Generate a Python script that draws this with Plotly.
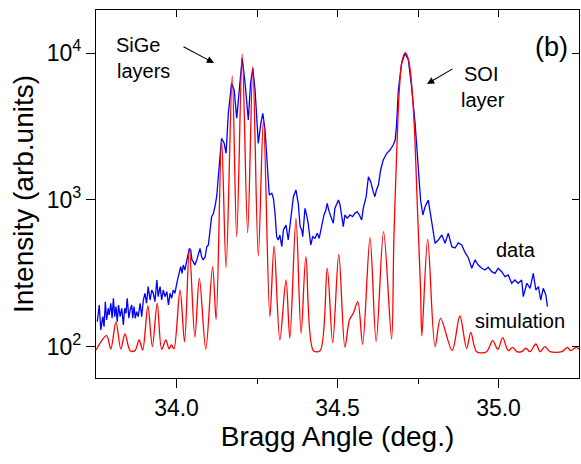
import plotly.graph_objects as go

# ---- simulation (red) ----
sim_angle = [33.750, 33.783, 33.796, 33.812, 33.827, 33.840, 33.856, 33.871, 33.884, 33.895,
             33.911, 33.925, 33.940, 33.954, 33.967, 33.977, 33.984, 33.992, 34.011, 34.025,
             34.040, 34.057, 34.071, 34.091, 34.112, 34.123, 34.140, 34.154, 34.173, 34.187,
             34.204, 34.221, 34.237, 34.254, 34.270, 34.290, 34.303, 34.321, 34.340, 34.352,
             34.371, 34.387, 34.402, 34.425, 34.446, 34.468, 34.485, 34.504, 34.523, 34.537,
             34.549, 34.563, 34.578, 34.601, 34.620, 34.643, 34.668, 34.675, 34.683, 34.692,
             34.700, 34.710, 34.719, 34.727, 34.738, 34.748, 34.758, 34.762, 34.780, 34.803,
             34.820, 34.856, 34.880, 34.901, 34.914, 34.932, 34.963, 34.982, 34.998, 35.013,
             35.030, 35.044, 35.057, 35.072, 35.085, 35.098, 35.116, 35.129, 35.144, 35.160,
             35.197, 35.214, 35.224, 35.241, 35.253]
sim_int = [95.4, 119.4, 96.9, 148, 97, 122.6, 94.4, 94.4, 111.6, 95.4,
           190, 100.5, 198.3, 96.5, 111.6, 97, 103.2, 97, 244.2, 108.7,
           466.4, 116.4, 293.3, 96.5, 351.8, 153.9, 2588, 346.3, 6973, 562.9,
           9845, 599.3, 8069, 415.9, 3540, 160.8, 486.6, 111.6, 285.6, 114.6,
           748.3, 123.9, 411.4, 94.4, 94.4, 343.1, 107, 427.2, 99.5, 152.7,
           169.6, 203.3, 104.3, 554, 108.7, 608.7, 113, 534.5, 1872, 5602,
           8686, 10047, 9247, 7311, 3341, 896.3, 244.2, 118.8, 540.4, 100.5,
           156.3, 94.7, 162.5, 97.7, 125.9, 92.9, 92.9, 110.4, 96.5, 115.7,
           94.4, 99.5, 92.9, 92.9, 98, 92.9, 104.8, 92.9, 100.5, 92.9,
           92.9, 99.5, 94.4, 99.5, 95.4]

# ---- measured data (blue) ----
data_angle = [33.754, 33.760, 33.765, 33.771, 33.775, 33.779, 33.783, 33.788, 33.791, 33.796,
              33.800, 33.804, 33.808, 33.812, 33.816, 33.820, 33.825, 33.830, 33.835, 33.839,
              33.843, 33.847, 33.852, 33.856, 33.861, 33.864, 33.868, 33.872, 33.876, 33.881,
              33.887, 33.892, 33.897, 33.902, 33.907, 33.912, 33.918, 33.923, 33.928, 33.933,
              33.939, 33.943, 33.949, 33.954, 33.959, 33.964, 33.970, 33.975, 33.980, 33.985,
              33.990, 33.995, 34.002, 34.009, 34.013, 34.017, 34.021, 34.026, 34.032, 34.037,
              34.040, 34.044, 34.048, 34.052, 34.057, 34.063, 34.068, 34.073, 34.078, 34.083,
              34.089, 34.094, 34.099, 34.104, 34.109, 34.114, 34.120, 34.125, 34.130, 34.135,
              34.140, 34.148, 34.154, 34.161, 34.171, 34.179, 34.187, 34.195, 34.204, 34.213,
              34.223, 34.230, 34.237, 34.244, 34.254, 34.262, 34.268, 34.275, 34.280, 34.285,
              34.288, 34.296, 34.301, 34.306, 34.311, 34.316, 34.321, 34.327, 34.332, 34.340,
              34.347, 34.352, 34.363, 34.371, 34.378, 34.384, 34.389, 34.392, 34.399, 34.404,
              34.409, 34.417, 34.423, 34.430, 34.437, 34.443, 34.451, 34.458, 34.464, 34.468,
              34.474, 34.482, 34.487, 34.492, 34.503, 34.508, 34.513, 34.518, 34.523, 34.530,
              34.539, 34.547, 34.554, 34.561, 34.568, 34.575, 34.580, 34.589, 34.596, 34.603,
              34.611, 34.616, 34.621, 34.627, 34.634, 34.642, 34.653, 34.663, 34.673, 34.679,
              34.683, 34.689, 34.699, 34.710, 34.720, 34.730, 34.741, 34.751, 34.758, 34.765,
              34.772, 34.782, 34.787, 34.793, 34.798, 34.803, 34.813, 34.824, 34.834, 34.844,
              34.855, 34.865, 34.875, 34.886, 34.896, 34.906, 34.917, 34.927, 34.937, 34.948,
              34.958, 34.968, 34.979, 34.989, 34.999, 35.010, 35.020, 35.030, 35.041, 35.051,
              35.061, 35.072, 35.077, 35.088, 35.098, 35.108, 35.116, 35.124, 35.131, 35.139,
              35.147, 35.152]
data_int = [148.6, 193.1, 130.5, 160.8, 137.4, 203.3, 152.6, 183.4, 165.1, 198.3,
            156.8, 214.5, 160.8, 188, 148.6, 193.1, 160.8, 183.4, 141.1, 183.4,
            169.6, 214.5, 156.8, 178.5, 193.1, 156.8, 188, 156.8, 173.9, 160.8,
            198.3, 160.8, 208.8, 231.9, 198.3, 257.2, 208.8, 244.2, 231.9, 203.3,
            285.6, 219.9, 257.2, 208.8, 244.2, 219.9, 237.8, 193.1, 231.9, 214.5,
            244.2, 231.9, 278.1, 334.1, 351.8, 317.2, 361.3, 334.1, 390.8, 434,
            469.2, 457, 390.8, 380.5, 361.3, 390.8, 434, 469.2, 411.5, 390.8,
            411.5, 481.2, 494.2, 625.2, 769.8, 803.2, 910.4, 1065, 1368, 1970,
            2628, 2430, 2078, 3888, 6222, 5601, 3595, 5319, 9204, 6222,
            3501, 6222, 7868, 5601, 2430, 3325, 3888, 2994, 1970, 1368,
            1081, 1111, 1027, 812, 562.9, 534.5, 578, 481.2, 625.2, 676,
            534.5, 658.3, 1053, 1170, 949.6, 658.3, 625.2, 562.9, 878.1, 790.7,
            694.2, 494.2, 562.9, 549, 593.6, 549, 676, 790.7, 855, 949.6,
            832.5, 731, 694.2, 878.1, 1000, 924.7, 750.7, 658.3, 790.7, 750.7,
            790.7, 769.8, 812, 832.5, 790.7, 731, 878.1, 1053, 1440, 1332,
            1139, 1053, 1170, 1265, 1600, 1871, 2078, 2189, 2367, 2559,
            3152, 5601, 8510, 9954, 8964, 5898, 3325, 1684, 1000, 790.7,
            900.5, 1000, 855, 731, 608.6, 507.6, 534.5, 578, 507.6, 593.6,
            481.2, 471.5, 510, 494.2, 439.5, 406.3, 343.1, 390.8, 361.3, 343.1,
            334.1, 348.5, 325.2, 317.2, 343.1, 325.2, 300.8, 309, 271.3, 285.6,
            271.3, 285.6, 219.9, 271.3, 250.8, 317.2, 244.2, 257.2, 208.8, 250.8,
            225.8, 188]

x_range = [33.75, 35.25]
y_log_range = [1.789, 4.2925]
x_tickvals = [34.0, 34.5, 35.0]
x_ticktext = ["34.0", "34.5", "35.0"]
y_tickvals = [100, 1000, 10000]
y_ticktext = ["10<sup>2</sup>", "10<sup>3</sup>", "10<sup>4</sup>"]

FONT = "Liberation Sans, Arial, sans-serif"

fig = go.Figure()
fig.add_trace(go.Scatter(x=data_angle, y=data_int, mode="lines",
                         line=dict(color="#0000FF", width=1.3), name="data"))
fig.add_trace(go.Scatter(x=sim_angle, y=sim_int, mode="lines",
                         line=dict(color="#FF0000", width=1.3, shape="spline", smoothing=0.9),
                         name="simulation"))
# empty trace to activate mirror axes
fig.add_trace(go.Scatter(x=[], y=[], xaxis="x2", yaxis="y2", showlegend=False))

fig.update_layout(
    width=581, height=464,
    margin=dict(l=96, r=2, t=10, b=86),
    paper_bgcolor="white", plot_bgcolor="white",
    showlegend=False,
    font=dict(family=FONT, color="black"),
    xaxis=dict(range=x_range, tickvals=x_tickvals, ticktext=x_ticktext,
               ticks="outside", ticklen=9, tickwidth=1.3, tickcolor="black",
               minor=dict(tickvals=[34.25, 34.75], ticks="outside", ticklen=5,
                          tickwidth=1.3, tickcolor="black"),
               showline=True, linecolor="black", linewidth=1.3,
               showgrid=False, zeroline=False, automargin=False,
               tickfont=dict(size=23, family=FONT),
               title=dict(text="Bragg Angle (deg.)", font=dict(size=28, family=FONT), standoff=6)),
    yaxis=dict(type="log", range=y_log_range, tickvals=y_tickvals, ticktext=y_ticktext,
               ticks="outside", ticklen=9, tickwidth=1.3, tickcolor="black",
               showline=True, linecolor="black", linewidth=1.3,
               showgrid=False, zeroline=False, automargin=False,
               tickfont=dict(size=23, family=FONT),
               title=dict(text="Intensity (arb.units)", font=dict(size=28, family=FONT), standoff=4)),
    xaxis2=dict(overlaying="x", side="top", range=x_range, dtick=0.25, tick0=34.0,
                ticks="inside", ticklen=7, tickwidth=1.3, tickcolor="black",
                showticklabels=False, showline=True, linecolor="black", linewidth=1.3,
                showgrid=False, zeroline=False, automargin=False),
    yaxis2=dict(overlaying="y", side="right", type="log", range=y_log_range,
                tickvals=y_tickvals, ticks="inside", ticklen=7, tickwidth=1.3,
                tickcolor="black", showticklabels=False, showline=True,
                linecolor="black", linewidth=1.3, showgrid=False, zeroline=False,
                automargin=False),
)

def px2paper(px, py):
    return (px - 96) / 483.0, (378 - py) / 368.0

ann = []
for text, (px, py) in [("SiGe", (138, 45)), ("layers", (143, 71)),
                       ("SOI", (481, 74)), ("layer", (483, 100)),
                       ("data", (516, 250)), ("simulation", (520, 321))]:
    xp, yp = px2paper(px, py)
    ann.append(dict(text=text, x=xp, y=yp, xref="paper", yref="paper",
                    xanchor="center", yanchor="middle", showarrow=False,
                    font=dict(size=20, family=FONT, color="black")))
xp, yp = px2paper(551, 47)
ann.append(dict(text="(b)", x=xp, y=yp, xref="paper", yref="paper",
                xanchor="center", yanchor="middle", showarrow=False,
                font=dict(size=27, family=FONT, color="black")))
# arrows
for (hx, hy), (tx, ty) in [((214, 63), (182, 46)), ((427, 84), (454, 68))]:
    xp, yp = px2paper(hx, hy)
    ann.append(dict(text="", x=xp, y=yp, xref="paper", yref="paper",
                    ax=tx - hx, ay=ty - hy, showarrow=True, arrowhead=2,
                    arrowsize=1.3, arrowwidth=1.1, arrowcolor="black"))
fig.update_layout(annotations=ann)

fig.write_html("out.html", config={"displayModeBar": False},
               post_script="document.body.style.margin='0';document.body.style.overflow='hidden';")
